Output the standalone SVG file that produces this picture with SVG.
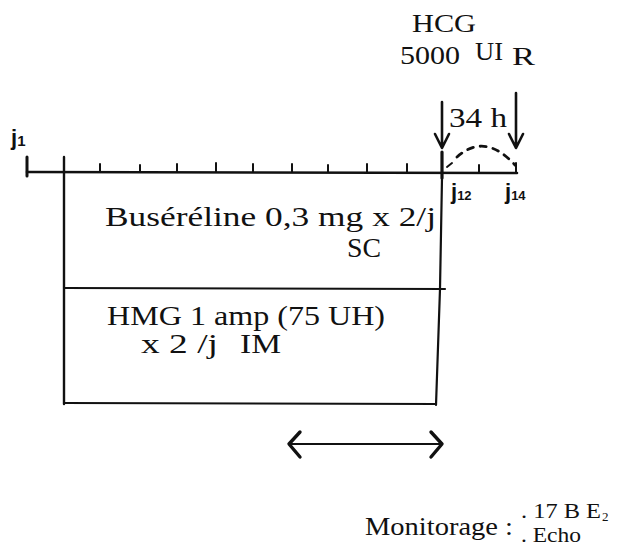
<svg xmlns="http://www.w3.org/2000/svg" width="624" height="549" viewBox="0 0 624 549">
<style>
.t{font-family:"Liberation Serif","DejaVu Serif",serif;fill:#111;}
.h{font-family:"Liberation Sans","DejaVu Sans",sans-serif;fill:#111;font-weight:bold;}
.ln{stroke:#111;fill:none;stroke-linecap:round;stroke-linejoin:round;}
</style>
<rect width="624" height="549" fill="#fff"/>
<g id="connectors">
  <path class="ln" stroke-width="2.6" d="M27,172 L517,173"/>
  <path class="ln" stroke-width="3" d="M27,157 L27,176"/>
  <g class="ln" stroke-width="2">
    <path d="M100,164 L100,172"/>
    <path d="M140,165 L140,172"/>
    <path d="M177,164 L177,172"/>
    <path d="M216,163 L216,172"/>
    <path d="M253,164 L253,172"/>
    <path d="M292,164 L292,172"/>
    <path d="M328,165 L328,172"/>
    <path d="M367,164 L367,172"/>
    <path d="M407,164 L407,172"/>
    <path d="M479,165 L479,172"/>
    <path d="M516,163 L516,173"/>
    <path d="M447,167 L452,163"/>
  </g>
  <path class="ln" stroke-width="2.6" d="M442,102 L442,147 M435,134 L442,148 L449,134"/>
  <path class="ln" stroke-width="2.6" d="M516,93 L516,147 M509,134 L516,148 L523,134"/>
  <path class="ln" stroke-width="2.8" stroke-dasharray="6 7" d="M457,157 Q485,132 515,165"/>
  <path class="ln" stroke-width="2" d="M290,444 L440,444"/>
  <path class="ln" stroke-width="3.4" d="M300,432 L289,444 L300,457 M431,432 L442,444 L431,457"/>
</g>
<g id="box-buserelin">
  <path class="ln" stroke-width="2.4" d="M64,157 L64,404"/>
  <path class="ln" stroke-width="3.2" d="M442,152 L442,178"/>
  <path class="ln" stroke-width="2.2" d="M442,178 L440,289 L436,405"/>
  <path class="ln" stroke-width="2.2" d="M64,288 L445,289"/>
  <text class="t" x="105" y="226" font-size="28" textLength="331" lengthAdjust="spacingAndGlyphs">Buséréline 0,3 mg x 2/j</text>
  <text class="t" x="347" y="257" font-size="28" textLength="34" lengthAdjust="spacingAndGlyphs">SC</text>
</g>
<g id="box-hmg">
  <path class="ln" stroke-width="2.2" d="M64,403 L436,404"/>
  <text class="t" x="107" y="325" font-size="28" textLength="278" lengthAdjust="spacingAndGlyphs">HMG 1 amp (75 UH)</text>
  <text class="t" x="141" y="353" font-size="28" textLength="77" lengthAdjust="spacingAndGlyphs">x 2 /j</text>
  <text class="t" x="240" y="353" font-size="28" textLength="41" lengthAdjust="spacingAndGlyphs">IM</text>
</g>
<g id="hcg">
  <text class="t" x="412" y="32" font-size="26" textLength="64" lengthAdjust="spacingAndGlyphs">HCG</text>
  <text class="t" x="400" y="64" font-size="26" textLength="60" lengthAdjust="spacingAndGlyphs">5000</text>
  <text class="t" x="475" y="60" font-size="26" textLength="28" lengthAdjust="spacingAndGlyphs">UI</text>
  <text class="t" x="512" y="65" font-size="26" textLength="23" lengthAdjust="spacingAndGlyphs">R</text>
</g>
<g id="label-34h">
  <text class="t" x="449" y="127" font-size="27" textLength="58" lengthAdjust="spacingAndGlyphs">34 h</text>
</g>
<g id="day-labels">
  <text class="h" x="11" y="145" font-size="22">j<tspan font-size="15" dy="1">1</tspan></text>
  <text class="h" x="451" y="199" font-size="22">j<tspan font-size="13" dy="1">12</tspan></text>
  <text class="h" x="505" y="199" font-size="22">j<tspan font-size="13" dy="1">14</tspan></text>
</g>
<g id="monitorage">
  <text class="t" x="365" y="535" font-size="25" textLength="148" lengthAdjust="spacingAndGlyphs">Monitorage :</text>
  <text class="t" x="521" y="518" font-size="22" textLength="80" lengthAdjust="spacingAndGlyphs">. 17 B E</text>
  <text class="t" x="602" y="521" font-size="13">2</text>
  <text class="t" x="521" y="542" font-size="22" textLength="60" lengthAdjust="spacingAndGlyphs">. Echo</text>
</g>
</svg>
